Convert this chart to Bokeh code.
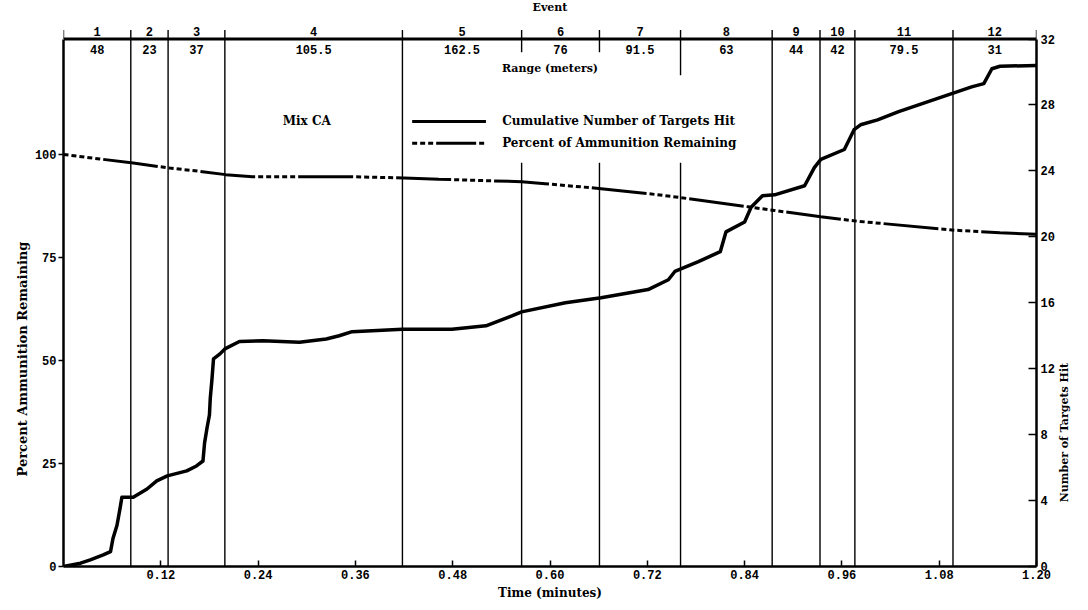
import math
from bokeh.plotting import figure
from bokeh.models import Range1d, LinearAxis, FixedTicker, Title
from bokeh.embed import file_html
from bokeh.resources import INLINE
from bokeh.core.properties import value

# ---------------- data ----------------
event_bounds = [0.0, 0.083, 0.129, 0.199, 0.418, 0.565, 0.661, 0.761, 0.874, 0.933, 0.976, 1.097, 1.20]
event_numbers = ["1", "2", "3", "4", "5", "6", "7", "8", "9", "10", "11", "12"]
event_ranges = ["48", "23", "37", "105.5", "162.5", "76", "91.5", "63", "44", "42", "79.5", "31"]

t_targets = [0.000, 0.021, 0.033, 0.049, 0.058, 0.061, 0.066, 0.070, 0.072, 0.086, 0.103, 0.115,
             0.128, 0.152, 0.164, 0.172, 0.174, 0.177, 0.180, 0.181, 0.183, 0.185, 0.193, 0.199,
             0.217, 0.246, 0.291, 0.324, 0.340, 0.356, 0.418, 0.479, 0.521, 0.553, 0.565, 0.619,
             0.663, 0.721, 0.746, 0.754, 0.783, 0.810, 0.817, 0.840, 0.848, 0.862, 0.877, 0.914,
             0.926, 0.934, 0.963, 0.975, 0.983, 1.004, 1.030, 1.060, 1.090, 1.120, 1.135, 1.145,
             1.155, 1.200]
n_targets = [0.0, 0.2, 0.4, 0.7, 0.9, 1.7, 2.5, 3.6, 4.2, 4.2, 4.7, 5.2,
             5.5, 5.8, 6.1, 6.4, 7.5, 8.4, 9.2, 10.2, 11.3, 12.6, 12.9, 13.2,
             13.65, 13.7, 13.6, 13.8, 14.0, 14.25, 14.4, 14.4, 14.6, 15.2, 15.45, 16.0,
             16.3, 16.8, 17.4, 17.9, 18.5, 19.1, 20.3, 20.9, 21.8, 22.5, 22.55, 23.1,
             24.2, 24.7, 25.3, 26.5, 26.8, 27.1, 27.6, 28.1, 28.6, 29.1, 29.3, 30.2,
             30.35, 30.4]

t_ammo = [0.0, 0.045, 0.086, 0.131, 0.168, 0.200, 0.233, 0.291, 0.353, 0.420, 0.463, 0.528,
          0.565, 0.594, 0.663, 0.721, 0.762, 0.844, 0.877, 0.934, 0.979, 1.100, 1.155, 1.200]
p_ammo = [100.0, 98.9, 97.9, 96.7, 95.9, 95.1, 94.6, 94.6, 94.6, 94.3, 94.0, 93.6,
          93.4, 92.9, 91.7, 90.5, 89.5, 87.3, 86.4, 84.9, 83.8, 81.6, 81.0, 80.6]

x_ticks = [0.12, 0.24, 0.36, 0.48, 0.60, 0.72, 0.84, 0.96, 1.08, 1.20]
x_tick_labels = ["0.12", "0.24", "0.36", "0.48", "0.60", "0.72", "0.84", "0.96", "1.08", "1.20"]
pct_ticks = [0, 25, 50, 75, 100]
n_ticks = [0, 4, 8, 12, 16, 20, 24, 28, 32]

legend_labels = ["Cumulative Number of Targets Hit", "Percent of Ammunition Remaining"]

# ---------------- styles ----------------
SERIF = value("DejaVu Serif")
MONO = value("Liberation Mono")
AMMO_DASH = "5 3 5 3 5 3 5 3 5 3 55 3"

N_TOP = 34.34
P_TOP = N_TOP * 4

p = figure(width=1080, height=602, output_backend="svg", toolbar_location=None,
           x_range=Range1d(0, 1.2), y_range=Range1d(0, P_TOP),
           min_border_left=63, min_border_right=40, min_border_top=0, min_border_bottom=32)
p.extra_y_ranges = {"n": Range1d(0, N_TOP)}
p.outline_line_color = None
p.xgrid.visible = False
p.ygrid.visible = False
p.background_fill_color = "white"


def style_axis(a):
    a.minor_tick_line_color = None
    a.axis_line_width = 2.5
    a.major_tick_line_width = 1.5
    a.major_label_text_font = "Liberation Mono"
    a.major_label_text_font_style = "bold"
    a.major_label_text_font_size = "12px"
    a.major_label_text_color = "black"
    a.axis_label_text_color = "black"


ax = p.xaxis[0]
style_axis(ax)
ax.ticker = FixedTicker(ticks=x_ticks)
ax.major_label_overrides = {t: l for t, l in zip(x_ticks, x_tick_labels)}
ax.major_tick_in = 6
ax.major_tick_out = 0
ax.major_label_standoff = 3
ax.axis_label = "Time (minutes)"
ax.axis_label_text_font = "DejaVu Serif"
ax.axis_label_text_font_style = "bold"
ax.axis_label_text_font_size = "12px"
ax.axis_label_standoff = 4

ay = p.yaxis[0]
style_axis(ay)
ay.ticker = FixedTicker(ticks=pct_ticks)
ay.bounds = (0, 128)
ay.major_tick_in = 0
ay.major_tick_out = 5
ay.major_label_standoff = 2

ry = LinearAxis(y_range_name="n", ticker=FixedTicker(ticks=n_ticks), bounds=(0, 32))
style_axis(ry)
ry.major_tick_in = 8
ry.major_tick_out = 0
ry.major_label_standoff = 4
p.add_layout(ry, "right")

# right-hand title as a single rotated tick label of an invisible axis
right_title_pos = 3.9
rt = LinearAxis(y_range_name="n", ticker=FixedTicker(ticks=[right_title_pos]))
rt.major_label_overrides = {right_title_pos: "Number of Targets Hit"}
rt.major_label_orientation = math.pi / 2
rt.axis_line_color = None
rt.major_tick_line_color = None
rt.minor_tick_line_color = None
rt.major_tick_in = 0
rt.major_tick_out = 0
rt.major_label_standoff = 7
rt.major_label_text_font = "DejaVu Serif"
rt.major_label_text_font_style = "bold"
rt.major_label_text_font_size = "11px"
rt.major_label_text_color = "black"
p.add_layout(rt, "right")

p.add_layout(Title(text="Percent Ammunition Remaining", align="left", offset=90,
                   text_font="DejaVu Serif", text_font_style="bold", text_font_size="13px",
                   text_color="black", standoff=4), "left")

# header line
p.segment(x0=[0], y0=[32], x1=[1.2], y1=[32], y_range_name="n", line_color="black", line_width=3)

# event separators
gap_top = {0.565: 31.2, 0.661: 31.2, 0.761: 29.8}
x0s, y0s, x1s, y1s = [], [], [], []
for b in event_bounds:
    x0s.append(b); y0s.append(32.55); x1s.append(b); y1s.append(32)
    if b in (0.0, 1.20):
        continue
    if b in gap_top:
        x0s.append(b); y0s.append(32); x1s.append(b); y1s.append(gap_top[b])
        x0s.append(b); y0s.append(24.5); x1s.append(b); y1s.append(0)
    else:
        x0s.append(b); y0s.append(32); x1s.append(b); y1s.append(0)
p.segment(x0=x0s, y0=y0s, x1=x1s, y1=y1s, y_range_name="n", line_color="black", line_width=1.4)

mids = [(a + b) / 2 for a, b in zip(event_bounds[:-1], event_bounds[1:])]
p.text(x=mids, y=[32.44] * len(mids), text=event_numbers, y_range_name="n",
       text_font=MONO, text_font_style="bold", text_font_size="12px",
       text_align="center", text_baseline="middle", text_color="black")
p.text(x=mids, y=[31.36] * len(mids), text=event_ranges, y_range_name="n",
       text_font=MONO, text_font_style="bold", text_font_size="12px",
       text_align="center", text_baseline="middle", text_color="black")
p.text(x=[0.6], y=[33.92], text=["Event"], y_range_name="n",
       text_font=SERIF, text_font_style="bold", text_font_size="11px",
       text_align="center", text_baseline="middle", text_color="black")
p.text(x=[0.6], y=[30.24], text=["Range (meters)"], y_range_name="n",
       text_font=SERIF, text_font_style="bold", text_font_size="11px",
       text_align="center", text_baseline="middle", text_color="black")

# data lines
p.line(t_ammo, p_ammo, line_color="black", line_width=3, line_dash=AMMO_DASH)
p.line(t_targets, n_targets, y_range_name="n", line_color="black", line_width=3.5,
       line_join="round")

# legend (manual)
p.segment(x0=[0.43], y0=[108.0], x1=[0.521], y1=[108.0], line_color="black", line_width=3)
p.segment(x0=[0.43], y0=[102.7], x1=[0.521], y1=[102.7], line_color="black", line_width=3,
          line_dash="5 3 5 3 5 3 40 3")
p.text(x=[0.541, 0.541], y=[108.0, 102.7], text=legend_labels,
       text_font=SERIF, text_font_style="bold", text_font_size="12px",
       text_align="left", text_baseline="middle", text_color="black")
p.text(x=[0.30], y=[108.0], text=["Mix CA"],
       text_font=SERIF, text_font_style="bold", text_font_size="12px",
       text_align="center", text_baseline="middle", text_color="black")

open("out.html", "w").write(file_html(p, INLINE))
